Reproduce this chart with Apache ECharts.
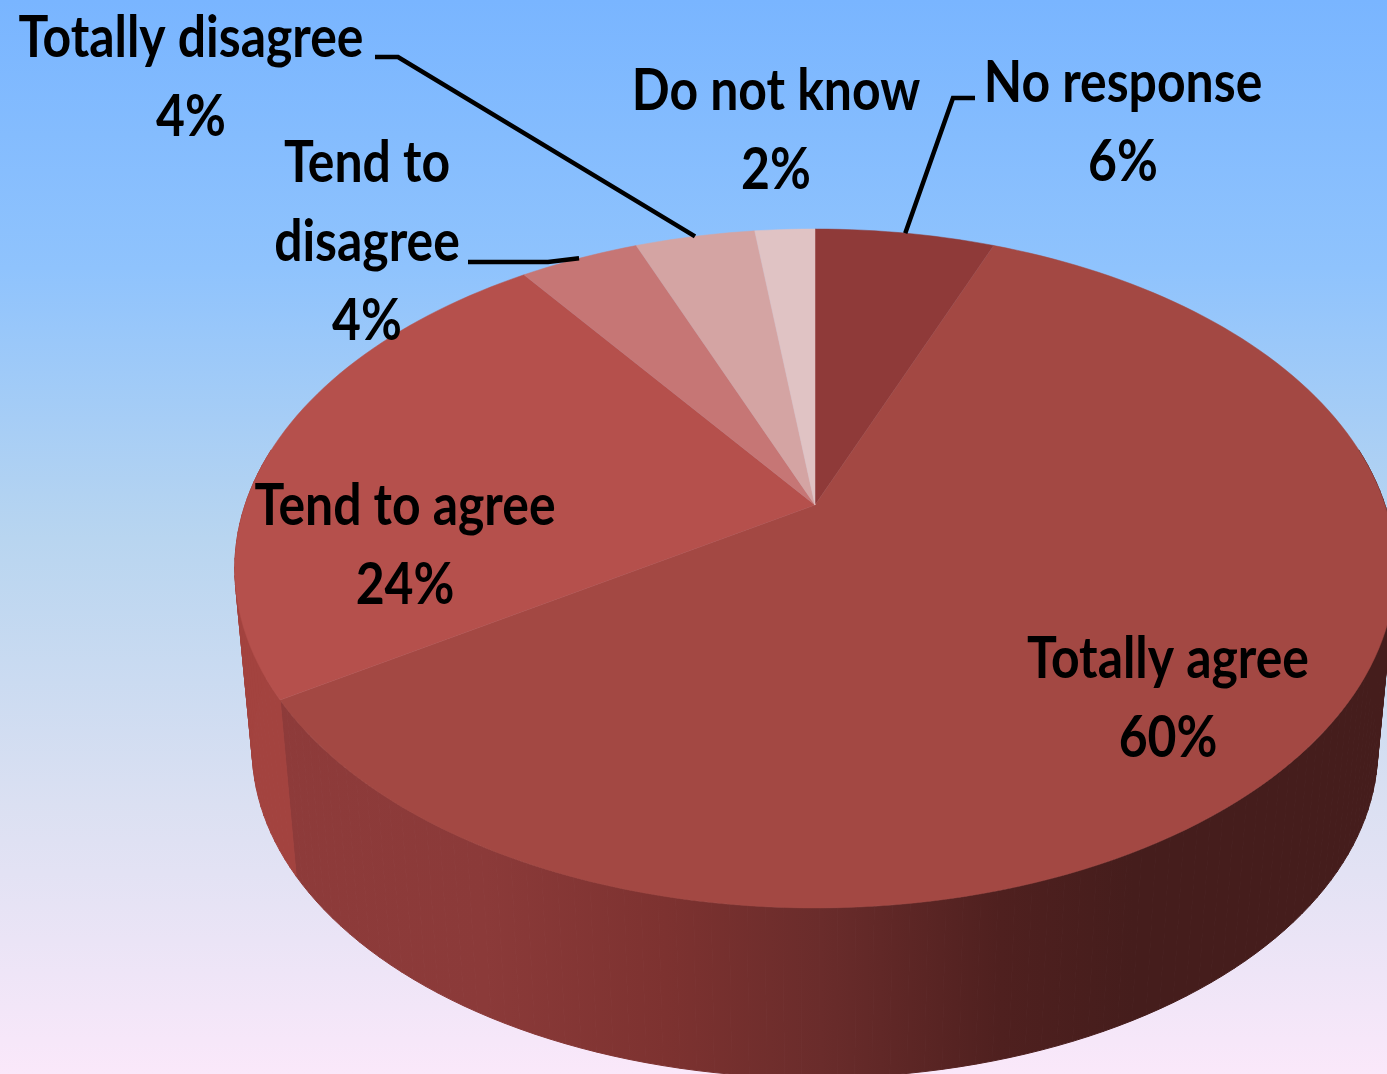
<!DOCTYPE html>
<html><head><meta charset="utf-8">
<style>html,body{margin:0;padding:0;overflow:hidden}#c{width:1387px;height:1074px}</style>
<script src="https://cdn.jsdelivr.net/npm/echarts@6/dist/echarts.min.js"></script>
</head><body><div id="c"></div>
<script>
const categories = ['No response', 'Totally agree', 'Tend to agree', 'Tend to disagree', 'Totally disagree', 'Do not know'];
const percents = [6, 60, 24, 4, 4, 2];

const sliceColors = ['#8F3A39', '#A34843', '#B5504C', '#C67675', '#D4A4A3', '#E0C3C4'];
const labelPlaces = [
  {x: 1123, y: 123, leader: [[975, 98], [953, 98]]},
  {x: 1168, y: 699},
  {x: 405, y: 546},
  {x: 367, y: 242, wrap: true, leader: [[468, 262], [548, 262]]},
  {x: 191, y: 78, leader: [[375, 57], [398, 57]]},
  {x: 776, y: 131}
];
const view = {cx: 815, cy: 505, rx: 570, ry: 327.6, p: -0.187, baseCy: 687, baseScale: 0.97, wallFrom: 80, wallTo: 280};

function project(deg, base) {
  const t = deg * Math.PI / 180, X = Math.sin(t), Y = -Math.cos(t), w = 1 + view.p * Y;
  const k = base ? view.baseScale : 1;
  return [view.cx + k * view.rx * X / w, (base ? view.baseCy : view.cy) + k * view.ry * Y / w];
}
function arc(a, b, base) {
  const n = Math.max(2, Math.ceil(Math.abs(b - a) / 1.5)), pts = [];
  for (let i = 0; i <= n; i++) pts.push(project(a + (b - a) * i / n, base));
  return pts;
}
const total = percents.reduce((s, v) => s + v, 0);
function angles(i) {
  const before = percents.slice(0, i).reduce((s, v) => s + v, 0);
  return [before / total * 360, (before + percents[i]) / total * 360];
}
const frontWall = new echarts.graphic.LinearGradient(262, 0, 1380, 0, [
  {offset: 0, color: '#8E3B3A'},
  {offset: 0.2, color: '#8B3A39'},
  {offset: 0.36, color: '#7D3230'},
  {offset: 0.5, color: '#6A2C2B'},
  {offset: 0.66, color: '#4F201F'},
  {offset: 0.78, color: '#451D1C'},
  {offset: 1, color: '#451D1C'}
], true);
const wallFills = ['#8F3A39', frontWall, '#A3433F', '#A3433F', '#A3433F', '#A3433F'];

const font = {fontFamily: 'Lato', fontSize: 58, fontWeight: 700, lineHeight: 79};

function renderItem(params, api) {
  const i = api.value(0);
  const [a, b] = angles(i);
  const children = [];
  const wa = Math.max(a, view.wallFrom), wb = Math.min(b, view.wallTo);
  if (wb > wa) {
    const top = arc(wa, wb, false), base = arc(wa, wb, true);
    for (let k = 0; k < top.length - 1; k++) {
      children.push({
        type: 'polygon', z2: 1,
        shape: {points: [top[k], top[k + 1], base[k + 1], base[k]]},
        style: {fill: wallFills[i], stroke: wallFills[i], lineWidth: 1}
      });
    }
  }
  children.push({
    type: 'polygon', z2: 5,
    shape: {points: [[view.cx, view.cy]].concat(arc(a, b, false))},
    style: {fill: sliceColors[i], stroke: sliceColors[i], lineWidth: 0.5}
  });
  const place = labelPlaces[i];
  if (place.leader) {
    children.push({
      type: 'polyline', z2: 8,
      shape: {points: place.leader.concat([project((a + b) / 2, false)])},
      style: {fill: null, stroke: '#000', lineWidth: 4.5}
    });
  }
  const name = place.wrap ? categories[i].replace(' disagree', '\ndisagree') : categories[i];
  children.push({
    type: 'text', z2: 10,
    x: place.x, y: place.y,
    scaleX: 0.86,
    style: Object.assign({
      text: name + '\n' + percents[i] + '%',
      fill: '#000', align: 'center', verticalAlign: 'middle'
    }, font)
  });
  return {type: 'group', children};
}

const chart = echarts.init(document.getElementById('c'), null, {renderer: 'canvas'});
chart.setOption({
  animation: false,
  backgroundColor: new echarts.graphic.LinearGradient(0, 0, 0, 1, [
    {offset: 0, color: '#79B5FF'},
    {offset: 0.25, color: '#8FC3FD'},
    {offset: 0.5, color: '#B8D5F0'},
    {offset: 0.75, color: '#DBE0F2'},
    {offset: 1, color: '#FAE8FA'}
  ]),
  series: [{
    type: 'custom',
    coordinateSystem: 'none',
    renderItem,
    data: percents.map((v, i) => [i, v]),
    encode: {value: 1}
  }]
});
</script></body></html>
